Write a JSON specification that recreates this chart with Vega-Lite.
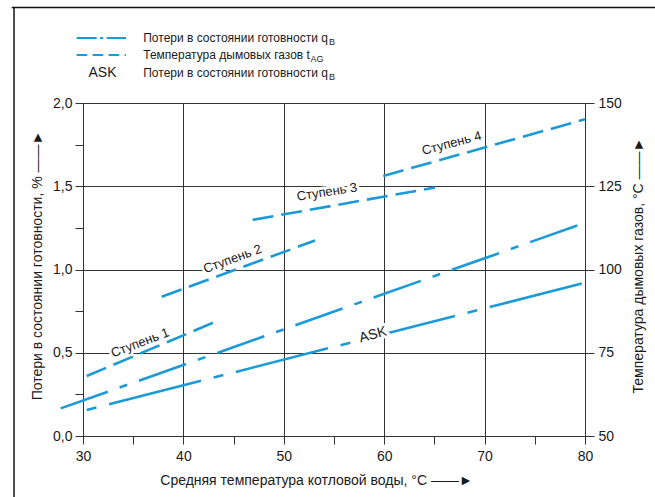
{
  "$schema": "https://vega.github.io/schema/vega-lite/v6.json",
  "width": 502,
  "height": 333,
  "autosize": {"type": "none"},
  "padding": {"left": 83, "top": 103, "right": 70, "bottom": 61},
  "background": "white",
  "config": {
    "view": {"stroke": null},
    "font": "Liberation Sans",
    "axis": {
      "labelFont": "Liberation Sans",
      "titleFont": "Liberation Sans",
      "labelColor": "#1a1a1a",
      "titleColor": "#1a1a1a",
      "domainColor": "#333333",
      "tickColor": "#333333",
      "gridColor": "#333333",
      "labelFontSize": 14,
      "titleFontSize": 14,
      "titleFontWeight": "normal",
      "domainWidth": 1,
      "tickWidth": 1,
      "gridWidth": 1
    }
  },
  "datasets": {
    "losses": [
      {"series": "qB", "x": 27.78, "q": 0.166},
      {"series": "qB", "x": 80, "q": 1.281},
      {"series": "ASK", "x": 30.37, "q": 0.156},
      {"series": "ASK", "x": 80, "q": 0.921}
    ],
    "temps": [
      {"stage": "Ступень 1", "x": 30.37, "T": 68.0},
      {"stage": "Ступень 1", "x": 42.95, "T": 84.0},
      {"stage": "Ступень 2", "x": 37.84, "T": 91.8},
      {"stage": "Ступень 2", "x": 53.11, "T": 108.7},
      {"stage": "Ступень 3", "x": 46.9, "T": 114.9},
      {"stage": "Ступень 3", "x": 65.06, "T": 124.6},
      {"stage": "Ступень 4", "x": 59.91, "T": 128.1},
      {"stage": "Ступень 4", "x": 80, "T": 145.1}
    ],
    "labels": [
      {"label": "Ступень 1", "x": 35.68, "q": 0.559},
      {"label": "Ступень 2", "x": 44.89, "q": 1.063},
      {"label": "Ступень 3", "x": 54.3, "q": 1.465},
      {"label": "Ступень 4", "x": 66.72, "q": 1.758},
      {"label": "ASK", "x": 58.88, "q": 0.607}
    ],
    "legend": [
      {"kind": "dashdot", "x": 29.37, "x2": 34.28, "q": 2.39},
      {"kind": "dash", "x": 29.37, "x2": 34.28, "q": 2.288},
      {"kind": "ask", "t": "ASK", "x": 31.94, "q": 2.18},
      {"kind": "text", "t": "Потери в состоянии готовности q", "x": 36.0, "q": 2.39},
      {"kind": "text", "t": "Температура дымовых газов t", "x": 36.0, "q": 2.288},
      {"kind": "text", "t": "Потери в состоянии готовности q", "x": 36.0, "q": 2.18},
      {"kind": "sub", "t": "B", "x": 54.5, "q": 2.366},
      {"kind": "sub", "t": "AG", "x": 52.65, "q": 2.264},
      {"kind": "sub", "t": "B", "x": 54.5, "q": 2.156}
    ],
    "frame": [
      {"x": 23.13, "x2": 23.13, "q": 2.574, "q2": -0.5},
      {"x": 22.9, "x2": 92, "q": 2.574, "q2": 2.574}
    ]
  },
  "encoding": {
    "x": {
      "field": "x",
      "type": "quantitative",
      "scale": {"domain": [30, 80], "nice": false, "zero": false},
      "axis": {
        "values": [30, 35, 40, 45, 50, 55, 60, 65, 70, 75, 80],
        "labelExpr": "datum.value % 10 === 0 ? datum.label : ''",
        "grid": true,
        "gridOpacity": {"condition": {"test": "datum.value % 10 !== 0", "value": 0}, "value": 1},
        "tickSize": 8,
        "labelPadding": 5,
        "labelFlush": false,
        "labelOverlap": false,
        "title": "Средняя температура котловой воды, °C   ——►",
        "titleX": 233,
        "titleY": 44,
        "titleAlign": "center",
        "titleBaseline": "middle"
      }
    }
  },
  "layer": [
    {
      "encoding": {
        "y": {
          "field": "q",
          "type": "quantitative",
          "scale": {"domain": [0, 2], "nice": false, "zero": false},
          "axis": {
            "orient": "left",
            "values": [0, 0.25, 0.5, 0.75, 1, 1.25, 1.5, 1.75, 2],
            "labelExpr": "datum.value % 0.5 === 0 ? replace(format(datum.value, '.1f'), '.', ',') : ''",
            "grid": true,
            "gridOpacity": {"condition": {"test": "datum.value % 0.5 !== 0", "value": 0}, "value": 1},
            "tickSize": 8,
            "labelPadding": 3,
            "labelOverlap": false,
            "labelFlush": false,
            "title": "Потери в состоянии готовности, %   ——►",
            "titleX": -46,
            "titleY": 162,
            "titleAngle": 270,
            "titleAlign": "center",
            "titleBaseline": "middle"
          }
        }
      },
      "layer": [
        {
          "data": {"name": "frame"},
          "mark": {"type": "rule", "clip": false, "color": "#111111", "strokeWidth": 1.5},
          "encoding": {"x2": {"field": "x2"}, "y2": {"field": "q2"}}
        },
        {
          "data": {"name": "losses"},
          "transform": [{"filter": "datum.series === 'qB'"}],
          "mark": {"type": "line", "clip": false, "color": "#1a9ad6", "strokeWidth": 2.6, "strokeDash": [50, 12.5, 8, 12.5]},
          "encoding": {}
        },
        {
          "data": {"name": "losses"},
          "transform": [{"filter": "datum.series === 'ASK'"}],
          "mark": {"type": "line", "clip": false, "color": "#1a9ad6", "strokeWidth": 2.6, "strokeDash": [10, 13, 95, 13]},
          "encoding": {}
        },
        {
          "data": {"name": "legend"},
          "transform": [{"filter": "datum.kind === 'dashdot'"}],
          "mark": {"type": "rule", "clip": false, "color": "#1a9ad6", "strokeWidth": 2, "strokeDash": [20, 3.5, 3, 3.5]},
          "encoding": {"x2": {"field": "x2"}}
        },
        {
          "data": {"name": "legend"},
          "transform": [{"filter": "datum.kind === 'dash'"}],
          "mark": {"type": "rule", "clip": false, "color": "#1a9ad6", "strokeWidth": 2, "strokeDash": [10.5, 5.5]},
          "encoding": {"x2": {"field": "x2"}}
        },
        {
          "data": {"name": "legend"},
          "transform": [{"filter": "datum.kind === 'ask'"}],
          "mark": {"type": "text", "clip": false, "fontSize": 14, "align": "center", "baseline": "middle", "color": "#1a1a1a"},
          "encoding": {"text": {"field": "t"}}
        },
        {
          "data": {"name": "legend"},
          "transform": [{"filter": "datum.kind === 'text'"}],
          "mark": {"type": "text", "clip": false, "fontSize": 12, "align": "left", "baseline": "middle", "color": "#1a1a1a"},
          "encoding": {"text": {"field": "t"}}
        },
        {
          "data": {"name": "legend"},
          "transform": [{"filter": "datum.kind === 'sub'"}],
          "mark": {"type": "text", "clip": false, "fontSize": 9, "align": "left", "baseline": "middle", "color": "#1a1a1a"},
          "encoding": {"text": {"field": "t"}}
        },
        {
          "data": {"name": "labels"},
          "transform": [{"filter": "datum.label === 'Ступень 1'"}],
          "mark": {"type": "text", "clip": false, "fontSize": 13, "angle": 339, "align": "center", "baseline": "middle", "color": "white", "stroke": "white", "strokeWidth": 5, "strokeJoin": "round"},
          "encoding": {"text": {"field": "label"}}
        },
        {
          "data": {"name": "labels"},
          "transform": [{"filter": "datum.label === 'Ступень 1'"}],
          "mark": {"type": "text", "clip": false, "fontSize": 13, "angle": 339, "align": "center", "baseline": "middle", "color": "#1a1a1a"},
          "encoding": {"text": {"field": "label"}}
        },
        {
          "data": {"name": "labels"},
          "transform": [{"filter": "datum.label === 'Ступень 2'"}],
          "mark": {"type": "text", "clip": false, "fontSize": 13, "angle": 340, "align": "center", "baseline": "middle", "color": "white", "stroke": "white", "strokeWidth": 5, "strokeJoin": "round"},
          "encoding": {"text": {"field": "label"}}
        },
        {
          "data": {"name": "labels"},
          "transform": [{"filter": "datum.label === 'Ступень 2'"}],
          "mark": {"type": "text", "clip": false, "fontSize": 13, "angle": 340, "align": "center", "baseline": "middle", "color": "#1a1a1a"},
          "encoding": {"text": {"field": "label"}}
        },
        {
          "data": {"name": "labels"},
          "transform": [{"filter": "datum.label === 'Ступень 3'"}],
          "mark": {"type": "text", "clip": false, "fontSize": 13, "angle": 351, "align": "center", "baseline": "middle", "color": "white", "stroke": "white", "strokeWidth": 6, "strokeJoin": "round"},
          "encoding": {"text": {"field": "label"}}
        },
        {
          "data": {"name": "labels"},
          "transform": [{"filter": "datum.label === 'Ступень 3'"}],
          "mark": {"type": "text", "clip": false, "fontSize": 13, "angle": 351, "align": "center", "baseline": "middle", "color": "#1a1a1a"},
          "encoding": {"text": {"field": "label"}}
        },
        {
          "data": {"name": "labels"},
          "transform": [{"filter": "datum.label === 'Ступень 4'"}],
          "mark": {"type": "text", "clip": false, "fontSize": 13, "angle": 345, "align": "center", "baseline": "middle", "color": "white", "stroke": "white", "strokeWidth": 5, "strokeJoin": "round"},
          "encoding": {"text": {"field": "label"}}
        },
        {
          "data": {"name": "labels"},
          "transform": [{"filter": "datum.label === 'Ступень 4'"}],
          "mark": {"type": "text", "clip": false, "fontSize": 13, "angle": 345, "align": "center", "baseline": "middle", "color": "#1a1a1a"},
          "encoding": {"text": {"field": "label"}}
        },
        {
          "data": {"name": "labels"},
          "transform": [{"filter": "datum.label === 'ASK'"}],
          "mark": {"type": "text", "clip": false, "fontSize": 14, "angle": 345, "align": "center", "baseline": "middle", "color": "white", "stroke": "white", "strokeWidth": 6, "strokeJoin": "round"},
          "encoding": {"text": {"field": "label"}}
        },
        {
          "data": {"name": "labels"},
          "transform": [{"filter": "datum.label === 'ASK'"}],
          "mark": {"type": "text", "clip": false, "fontSize": 14, "angle": 345, "align": "center", "baseline": "middle", "color": "#1a1a1a"},
          "encoding": {"text": {"field": "label"}}
        }
      ]
    },
    {
      "data": {"name": "temps"},
      "mark": {"type": "line", "clip": false, "color": "#1a9ad6", "strokeWidth": 2.6, "strokeDash": [21, 8]},
      "encoding": {
        "detail": {"field": "stage", "type": "nominal"},
        "y": {
          "field": "T",
          "type": "quantitative",
          "scale": {"domain": [50, 150], "nice": false, "zero": false},
          "axis": {
            "orient": "right",
            "values": [50, 75, 100, 125, 150],
            "grid": false,
            "tickSize": 9,
            "labelPadding": 4,
            "labelOverlap": false,
            "labelFlush": false,
            "title": "Температура дымовых газов, °C   ——►",
            "titleX": 53,
            "titleY": 162,
            "titleAngle": 270,
            "titleAlign": "center",
            "titleBaseline": "middle"
          }
        }
      }
    }
  ],
  "resolve": {"scale": {"y": "independent"}}
}
